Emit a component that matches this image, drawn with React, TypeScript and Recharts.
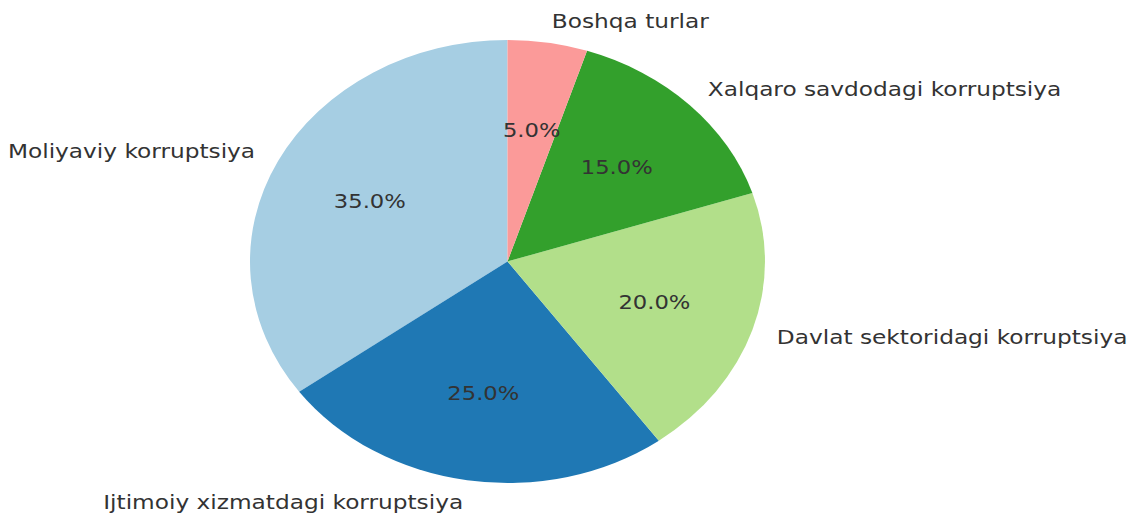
import React from 'react';
import { PieChart, Pie, Cell } from 'recharts';

const categories = [
  'Moliyaviy korruptsiya',
  'Ijtimoiy xizmatdagi korruptsiya',
  'Davlat sektoridagi korruptsiya',
  'Xalqaro savdodagi korruptsiya',
  'Boshqa turlar',
];
const shares = [35, 25, 20, 15, 5];
const colors = ['#a6cee3', '#1f78b4', '#b2df8a', '#33a02c', '#fb9a99'];

const data = categories.map((name, i) => ({ name, value: shares[i] }));

// the reference is stretched horizontally, so the whole chart is drawn round and scaled in x
const STRETCH = 1.1625;
const RAD = Math.PI / 180;

const renderLabel = (props: any) => {
  const { cx, cy, midAngle, outerRadius, percent, name } = props;
  const cos = Math.cos(-midAngle * RAD);
  const sin = Math.sin(-midAngle * RAD);
  const lx = cx + outerRadius * 1.1 * cos;
  const ly = cy + outerRadius * 1.1 * sin;
  const px = cx + outerRadius * 0.6 * cos;
  const py = cy + outerRadius * 0.6 * sin;
  return (
    <g>
      <text
        x={lx}
        y={ly}
        fill="#333333"
        fontSize={20}
        fontFamily="DejaVu Sans"
        textAnchor={cos >= 0 ? 'start' : 'end'}
        dominantBaseline="central"
      >
        {name}
      </text>
      <text
        x={px}
        y={py}
        fill="#333333"
        fontSize={19.5}
        fontFamily="DejaVu Sans"
        textAnchor="middle"
        dominantBaseline="central"
      >
        {(percent * 100).toFixed(1)}%
      </text>
    </g>
  );
};

const App: React.FC = () => {
  const innerWidth = 1130 / STRETCH;
  return (
    <div
      style={{
        position: 'absolute',
        left: 0,
        top: 0,
        width: 1130,
        height: 513,
        overflow: 'hidden',
        background: '#ffffff',
      }}
    >
      <div style={{ width: innerWidth, height: 513, transform: `scaleX(${STRETCH})`, transformOrigin: 'left top' }}>
        <PieChart width={innerWidth} height={513} margin={{ top: 0, right: 0, bottom: 0, left: 0 }}>
          <Pie
            data={data}
            dataKey="value"
            nameKey="name"
            cx={507.5 / STRETCH}
            cy={261.5}
            outerRadius={221.5}
            startAngle={90}
            endAngle={450}
            stroke="none"
            label={renderLabel}
            labelLine={false}
            isAnimationActive={false}
          >
            {data.map((entry, index) => (
              <Cell key={`cell-${index}`} fill={colors[index]} />
            ))}
          </Pie>
        </PieChart>
      </div>
    </div>
  );
};

export default App;
